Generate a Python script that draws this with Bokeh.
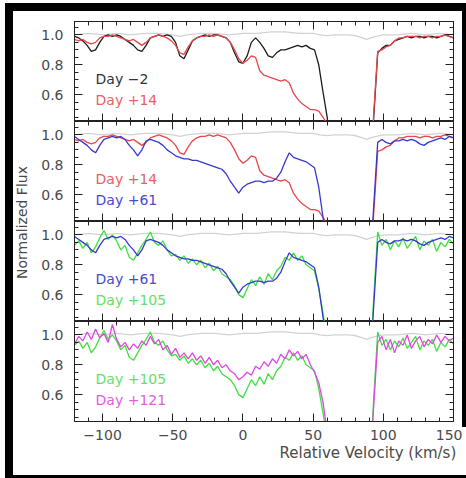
import math
from bokeh.plotting import figure
from bokeh.layouts import column, row
from bokeh.models import (Range1d, LinearAxis, FixedTicker, Label,
                          PrintfTickFormatter, Div)
from bokeh.embed import file_html
from bokeh.resources import INLINE

# ---------------- data ----------------
velocity = list(range(-120, 151, 3))  # km/s sampling grid

day_m2 = [0.99, 0.98, 0.96, 0.93, 0.89, 0.90, 0.95, 0.99, 1.00, 0.99,
          1.00, 0.99, 0.97, 0.95, 0.93, 0.90, 0.89, 0.93, 0.98, 0.99,
          1.00, 0.99, 1.00, 0.99, 0.95, 0.86, 0.84, 0.90, 0.96, 0.98,
          0.99, 1.00, 0.99, 1.00, 1.00, 0.99, 0.98, 0.95, 0.88, 0.82,
          0.81, 0.86, 0.95, 0.98, 0.95, 0.91, 0.86, 0.85, 0.88, 0.90,
          0.90, 0.91, 0.92, 0.93, 0.92, 0.93, 0.91, 0.90, 0.80, 0.62,
          0.45, 0.20, 0.00, 0.00, 0.00, 0.00, 0.00, 0.00, 0.00, 0.00,
          0.00, 0.42, 0.88, 0.91, 0.93, 0.93, 0.96, 0.97, 0.98, 0.99,
          0.98, 0.99, 0.99, 0.98, 0.99, 0.99, 0.98, 0.99, 1.00, 0.99,
          0.98]

day_p14 = [0.97, 0.96, 0.97, 0.95, 0.94, 0.95, 0.98, 0.99, 0.99, 1.00,
           0.99, 0.98, 0.97, 0.96, 0.97, 0.95, 0.93, 0.95, 0.98, 0.99,
           1.00, 0.99, 0.98, 0.96, 0.93, 0.88, 0.87, 0.92, 0.96, 0.98,
           0.99, 0.99, 1.00, 0.99, 1.00, 0.99, 0.98, 0.95, 0.90, 0.84,
           0.81, 0.83, 0.86, 0.85, 0.76, 0.73, 0.72, 0.71, 0.70, 0.69,
           0.70, 0.68, 0.61, 0.57, 0.54, 0.52, 0.50, 0.50, 0.49, 0.45,
           0.40, 0.18, 0.00, 0.00, 0.00, 0.00, 0.00, 0.00, 0.00, 0.00,
           0.00, 0.45, 0.89, 0.90, 0.92, 0.93, 0.96, 0.98, 0.98, 0.99,
           0.99, 0.99, 0.98, 0.99, 0.99, 0.98, 0.99, 0.99, 1.00, 0.99,
           0.98]

day_p61 = [0.99, 0.97, 0.95, 0.93, 0.90, 0.88, 0.93, 0.97, 0.98, 0.99,
           0.98, 0.99, 0.97, 0.93, 0.90, 0.86, 0.90, 0.96, 0.97, 0.96,
           0.95, 0.93, 0.90, 0.88, 0.86, 0.85, 0.84, 0.84, 0.83, 0.83,
           0.82, 0.81, 0.80, 0.79, 0.78, 0.77, 0.74, 0.69, 0.65, 0.61,
           0.65, 0.67, 0.68, 0.69, 0.69, 0.68, 0.69, 0.69, 0.71, 0.75,
           0.82, 0.88, 0.85, 0.84, 0.83, 0.82, 0.80, 0.78, 0.65, 0.45,
           0.30, 0.10, 0.00, 0.00, 0.00, 0.00, 0.00, 0.00, 0.00, 0.00,
           0.00, 0.50, 0.95, 0.97, 0.95, 0.94, 0.96, 0.96, 0.97, 0.96,
           0.97, 0.96, 0.94, 0.93, 0.95, 0.96, 0.97, 0.98, 0.97, 0.99,
           0.98]

day_p105 = [0.93, 0.96, 0.91, 0.95, 0.88, 0.92, 0.98, 1.03, 0.97, 1.00,
            0.96, 0.90, 0.93, 0.85, 0.83, 0.88, 0.93, 0.97, 1.02, 0.95,
            0.93, 0.96, 0.90, 0.86, 0.87, 0.83, 0.86, 0.81, 0.84, 0.80,
            0.83, 0.78, 0.81, 0.76, 0.79, 0.74, 0.72, 0.70, 0.66, 0.60,
            0.58, 0.64, 0.70, 0.66, 0.72, 0.67, 0.74, 0.70, 0.76, 0.79,
            0.85, 0.83, 0.88, 0.83, 0.86, 0.80, 0.78, 0.76, 0.64, 0.48,
            0.30, 0.10, 0.00, 0.00, 0.00, 0.00, 0.00, 0.00, 0.00, 0.00,
            0.00, 0.55, 1.02, 0.93, 0.97, 0.90, 0.96, 0.92, 0.98, 0.91,
            0.95, 0.99, 0.90, 0.96, 0.93, 0.97, 0.89, 0.95, 0.92, 0.97,
            0.94]

day_p121 = [0.94, 0.99, 0.96, 1.02, 0.97, 1.04, 0.98, 1.01, 0.95, 1.07,
            0.97, 0.92, 0.95, 0.90, 0.94, 0.91, 0.96, 0.93, 0.99, 0.94,
            0.97, 0.90, 0.93, 0.87, 0.91, 0.85, 0.88, 0.84, 0.88, 0.83,
            0.86, 0.81, 0.85, 0.80, 0.83, 0.78, 0.80, 0.76, 0.74, 0.70,
            0.72, 0.75, 0.73, 0.79, 0.77, 0.82, 0.79, 0.84, 0.81, 0.87,
            0.84, 0.90, 0.86, 0.89, 0.84, 0.87, 0.80, 0.75, 0.68, 0.55,
            0.35, 0.10, 0.00, 0.00, 0.00, 0.00, 0.00, 0.00, 0.00, 0.00,
            0.00, 0.50, 0.95, 0.99, 0.90, 0.97, 0.88, 0.96, 0.93, 1.00,
            0.91, 0.96, 0.99, 0.92, 0.97, 0.94, 1.00, 0.95, 0.99, 0.96,
            0.98]

ref_velocity = [-120, -110, -100, -90, -80, -70, -60, -50, -45, -40, -30, -20,
                -10, 0, 10, 20, 30, 40, 50, 55, 60, 65, 70, 75, 80, 85, 88,
                91, 95, 100, 110, 120, 130, 140, 150]
ref_flux = [1.00, 1.01, 1.00, 1.01, 1.00, 1.01, 1.01, 1.00, 0.99, 1.00, 1.01,
            1.01, 1.00, 1.01, 1.01, 1.02, 1.02, 1.01, 1.01, 1.00, 0.995, 1.00,
            1.00, 1.00, 0.995, 0.98, 0.97, 0.98, 0.99, 1.00, 1.00, 1.01, 1.00,
            1.01, 1.00]

x_ticks = [-100, -50, 0, 50, 100, 150]
x_minor = list(range(-120, 151, 10))
y_ticks = [0.6, 0.8, 1.0]
y_minor = [0.45, 0.5, 0.55, 0.65, 0.7, 0.75, 0.85, 0.9, 0.95, 1.05]

COL = {"-2": "#1c1c1c", "+14": "#e8464a", "+61": "#3838d0",
       "+105": "#3ee03e", "+121": "#e046e0"}
TXT = {"-2": "#333333", "+14": "#e86262", "+61": "#4a4ac8",
       "+105": "#66e066", "+121": "#e060e0"}
panels = [
    [("-2", day_m2), ("+14", day_p14)],
    [("+14", day_p14), ("+61", day_p61)],
    [("+105", day_p105), ("+61", day_p61)],
    [("+105", day_p105), ("+121", day_p121)],
]
legend_order = [["-2", "+14"], ["+14", "+61"], ["+61", "+105"], ["+105", "+121"]]

FONT = "DejaVu Sans"
AX = "#222222"
LBL = "#4a4a4a"

xr = Range1d(-120, 150)


def block(w, h, color):
    return Div(text="", width=w, height=h, margin=0,
               styles={"background-color": color, "margin": "0",
                       "padding": "0", "overflow": "hidden"})


def style_axis(ax, labels):
    ax.axis_line_color = AX
    ax.major_tick_line_color = AX
    ax.minor_tick_line_color = AX
    ax.major_tick_out = 0
    ax.minor_tick_out = 0
    ax.major_tick_in = 8
    ax.minor_tick_in = 4
    if labels:
        ax.major_label_text_font = FONT
        ax.major_label_text_font_size = "14px"
        ax.major_label_text_color = LBL
    else:
        ax.major_label_text_color = None
        ax.major_label_standoff = 0


def make_panel(i, height, top, bottom):
    p = figure(width=424, height=height, x_range=xr, y_range=Range1d(0.42, 1.09),
               output_backend="svg", toolbar_location=None,
               x_axis_location=None, y_axis_location=None,
               min_border_left=36, min_border_right=9,
               min_border_top=top, min_border_bottom=bottom,
               outline_line_color=AX, background_fill_color="white",
               border_fill_color="white")
    p.grid.visible = False
    for side in ["left", "right"]:
        ax = LinearAxis(ticker=FixedTicker(ticks=y_ticks, minor_ticks=y_minor),
                        formatter=PrintfTickFormatter(format="%.1f"))
        style_axis(ax, side == "left")
        if side == "left":
            ax.major_label_standoff = 11
        p.add_layout(ax, side)
    for side in ["above", "below"]:
        lab = (side == "below" and i == 3)
        ax = LinearAxis(ticker=FixedTicker(ticks=x_ticks, minor_ticks=x_minor))
        style_axis(ax, lab)
        if lab:
            ax.major_label_standoff = 8
            ax.major_label_overrides = {-100: "\u2212100", -50: "\u221250"}
        p.add_layout(ax, side)

    p.line(ref_velocity, ref_flux, color="#d2d2d2", line_width=1.3)
    for key, flux in panels[i]:
        p.line(velocity, flux, color=COL[key], line_width=1.3)

    k1, k2 = legend_order[i]
    for key, yy in [(k1, 0.705), (k2, 0.565)]:
        name = "Day " + key.replace("-", "\u2212")
        p.add_layout(Label(x=-105, y=yy, text=name, text_font=FONT,
                           text_font_size="14px", text_color=TXT[key],
                           text_baseline="middle", text_align="left"))
    return p


f1 = make_panel(0, 110, 10, 0)
f2 = make_panel(1, 100, 0, 0)
f3 = make_panel(2, 100, 0, 0)
f4 = make_panel(3, 124, 0, 24)

# x-axis title strip
xlab = figure(width=428, height=30, x_range=Range1d(0, 428), y_range=Range1d(0, 30),
              output_backend="svg", toolbar_location=None,
              x_axis_location=None, y_axis_location=None, min_border=0,
              outline_line_color=None, background_fill_color="white",
              border_fill_color="white")
xlab.grid.visible = False
xlab.add_layout(Label(x=241, y=23, text="Relative Velocity (km/s)",
                      text_font=FONT, text_font_size="15px", text_color=LBL,
                      text_baseline="middle", text_align="left"))

ylab = figure(width=25, height=464, x_range=Range1d(0, 25), y_range=Range1d(0, 464),
              output_backend="svg", toolbar_location=None,
              x_axis_location=None, y_axis_location=None, min_border=0,
              outline_line_color=None, background_fill_color="white",
              border_fill_color="white")
ylab.grid.visible = False
ylab.add_layout(Label(x=8, y=253, text="Normalized Flux", angle=math.pi / 2,
                      text_font=FONT, text_font_size="14px", text_color=LBL,
                      text_align="center", text_baseline="middle"))

right_part = column(
    row(column(f1, f2, f3, f4),
        column(block(4, 416, "black"), block(4, 18, "white"))),
    xlab)
inner = row(block(8, 464, "black"), ylab, right_part)
framed = column(block(461, 8, "black"), inner, block(461, 3, "black"))
layout = column(block(466, 3, "white"), row(block(5, 475, "white"), framed))

open("out.html", "w").write(file_html(layout, INLINE))
